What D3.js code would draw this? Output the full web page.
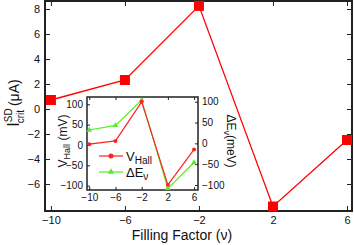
<!DOCTYPE html>
<meta charset="utf-8">
<script src="https://d3js.org/d3.v7.min.js"></script>
<style>
  body { margin: 0; background: #fff; }
  text { font-family: Arial, "Liberation Sans", sans-serif; fill: #111; }
</style>
<div id="chart"></div>
<script>
// main panel: critical current vs filling factor
var fillFactor = [-10, -6, -2, 2, 6];
var iCrit = [0.72, 2.32, 8.25, -7.8, -2.48];
var mainXTicks = [-10, -6, -2, 2, 6];
var mainYTicks = [-6, -4, -2, 0, 2, 4, 6, 8];

// inset: Hall voltage and energy difference
var vHall = [2, 10, 106, -98, -11];
var deltaE = [32, 43, 104, -108, -46];
var insetTicks = [-100, -50, 0, 50, 100];

var W = 354, H = 245;
var svg = d3.select("#chart").append("svg")
  .attr("width", W).attr("height", H);

// ---- main plot
var x = d3.scaleLinear().domain([-10.32, 6.27]).range([45, 352]);
var y = d3.scaleLinear().domain([-8.16, 8.72]).range([211, 0]);

var main = svg.append("g");

main.append("g")
  .attr("transform", "translate(0,211)")
  .call(d3.axisBottom(x).tickValues(mainXTicks).tickSizeInner(-5).tickSizeOuter(0).tickPadding(5))
  .call(styleAxis, 11);
main.append("g")
  .attr("transform", "translate(45,0)")
  .call(d3.axisLeft(y).tickValues(mainYTicks).tickSizeInner(-5).tickSizeOuter(0).tickPadding(5))
  .call(styleAxis, 11);
main.append("g")
  .attr("transform", "translate(352,0)")
  .call(d3.axisRight(y).tickValues(mainYTicks).tickSizeInner(-5).tickSizeOuter(0).tickFormat(""))
  .call(styleAxis, 11);
main.append("g")
  .attr("transform", "translate(0,1)")
  .call(d3.axisTop(x).tickValues(mainXTicks).tickSizeInner(-5).tickSizeOuter(0).tickFormat(""))
  .call(styleAxis, 11);

main.append("rect")
  .attr("x", 45).attr("y", 1).attr("width", 307).attr("height", 210)
  .attr("fill", "none").attr("stroke", "#222").attr("stroke-width", 2);

var mainPts = fillFactor.map(function(f, i) { return [f, iCrit[i]]; });
main.append("path")
  .datum(mainPts)
  .attr("d", d3.line().x(function(d) { return x(d[0]); }).y(function(d) { return y(d[1]); }))
  .attr("fill", "none").attr("stroke", "#ff0000").attr("stroke-width", 1.3);
main.selectAll(".sq").data(mainPts).enter().append("rect")
  .attr("x", function(d) { return x(d[0]) - 5; })
  .attr("y", function(d) { return y(d[1]) - 5; })
  .attr("width", 10).attr("height", 10)
  .attr("fill", "#ff0000");

// axis titles
svg.append("text")
  .attr("x", 182).attr("y", 240)
  .attr("text-anchor", "middle").attr("font-size", 14)
  .text("Filling Factor (\u03bd)");

var yl = svg.append("text")
  .attr("transform", "translate(19,103) rotate(-90)")
  .attr("text-anchor", "middle").attr("font-size", 14);
yl.append("tspan").attr("font-size", 16).text("I");
yl.append("tspan").attr("font-size", 10).attr("dy", -7).text("SD");
yl.append("tspan").attr("font-size", 10).attr("dx", -15).attr("dy", 12).text("crit");
yl.append("tspan").attr("dy", -5).text(" (\u03bcA)");

// ---- inset
var ix = d3.scaleLinear().domain([-10.35, 6.6]).range([87, 198]);
var iyL = d3.scaleLinear().domain([-110.6, 117.9]).range([190, 97]);
var iyR = d3.scaleLinear().domain([-112, 111.3]).range([190, 97]);

var inset = svg.append("g");
inset.append("rect")
  .attr("x", 87).attr("y", 97).attr("width", 111).attr("height", 93)
  .attr("fill", "#fff");

inset.append("g")
  .attr("transform", "translate(0,190)")
  .call(d3.axisBottom(ix).tickValues(mainXTicks).tickSizeInner(-3).tickSizeOuter(0).tickPadding(4))
  .call(styleAxis, 10);
inset.append("g")
  .attr("transform", "translate(0,97)")
  .call(d3.axisTop(ix).tickValues(mainXTicks).tickSizeInner(-3).tickSizeOuter(0).tickFormat(""))
  .call(styleAxis, 10);
inset.append("g")
  .attr("transform", "translate(87,0)")
  .call(d3.axisLeft(iyL).tickValues(insetTicks).tickSizeInner(-3).tickSizeOuter(0).tickPadding(4))
  .call(styleAxis, 10);
inset.append("g")
  .attr("transform", "translate(198,0)")
  .call(d3.axisRight(iyR).tickValues(insetTicks).tickSizeInner(-3).tickSizeOuter(0).tickPadding(4))
  .call(styleAxis, 10);

inset.append("rect")
  .attr("x", 87).attr("y", 97).attr("width", 111).attr("height", 93)
  .attr("fill", "none").attr("stroke", "#222").attr("stroke-width", 1.5);

var redPts = fillFactor.map(function(f, i) { return [f, vHall[i]]; });
var greenPts = fillFactor.map(function(f, i) { return [f, deltaE[i]]; });

inset.append("path").datum(greenPts)
  .attr("d", d3.line().x(function(d) { return ix(d[0]); }).y(function(d) { return iyR(d[1]); }))
  .attr("fill", "none").attr("stroke", "#55ee22").attr("stroke-width", 1.2);
inset.selectAll(".tri").data(greenPts).enter().append("path")
  .attr("d", d3.symbol().type(d3.symbolTriangle).size(14))
  .attr("transform", function(d) { return "translate(" + ix(d[0]) + "," + iyR(d[1]) + ")"; })
  .attr("fill", "#55ee22");

inset.append("path").datum(redPts)
  .attr("d", d3.line().x(function(d) { return ix(d[0]); }).y(function(d) { return iyL(d[1]); }))
  .attr("fill", "none").attr("stroke", "#ff2222").attr("stroke-width", 1.2);
inset.selectAll(".dot").data(redPts).enter().append("circle")
  .attr("cx", function(d) { return ix(d[0]); })
  .attr("cy", function(d) { return iyL(d[1]); })
  .attr("r", 2).attr("fill", "#ff2222");

// inset legend
var leg = [
  { name: "V", sub: "Hall", color: "#ff2222", y: 156, shape: "circle" },
  { name: "\u0394E", sub: "\u03bd", color: "#55ee22", y: 172, shape: "tri" }
];
leg.forEach(function(l) {
  inset.append("line")
    .attr("x1", 99).attr("x2", 123).attr("y1", l.y).attr("y2", l.y)
    .attr("stroke", l.color).attr("stroke-width", 1.2);
  if (l.shape == "circle") {
    inset.append("circle").attr("cx", 111).attr("cy", l.y).attr("r", 2.5).attr("fill", l.color);
  } else {
    inset.append("path").attr("d", d3.symbol().type(d3.symbolTriangle).size(18))
      .attr("transform", "translate(111," + l.y + ")").attr("fill", l.color);
  }
  var t = inset.append("text").attr("x", 126).attr("y", l.y + 5).attr("font-size", 13);
  t.append("tspan").text(l.name);
  t.append("tspan").attr("font-size", 10).attr("dy", 3).text(l.sub);
});

// inset axis titles
var il = svg.append("text")
  .attr("transform", "translate(67,141) rotate(-90)")
  .attr("text-anchor", "middle").attr("font-size", 12);
il.append("tspan").text("V");
il.append("tspan").attr("font-size", 9).attr("dy", 3).text("Hall");
il.append("tspan").attr("dy", -3).text(" (mV)");

var ir = svg.append("text")
  .attr("transform", "translate(227,141) rotate(90)")
  .attr("text-anchor", "middle").attr("font-size", 12);
ir.append("tspan").text("\u0394E");
ir.append("tspan").attr("font-size", 9).attr("dy", 3).text("\u03bd");
ir.append("tspan").attr("dy", -3).text("(meV)");

function styleAxis(g, fs) {
  g.select(".domain").remove();
  g.selectAll(".tick line").attr("stroke", "#222").attr("stroke-width", 1);
  g.selectAll(".tick text").attr("font-size", fs).attr("fill", "#111")
    .attr("font-family", "Arial, 'Liberation Sans', sans-serif");
}
</script>
